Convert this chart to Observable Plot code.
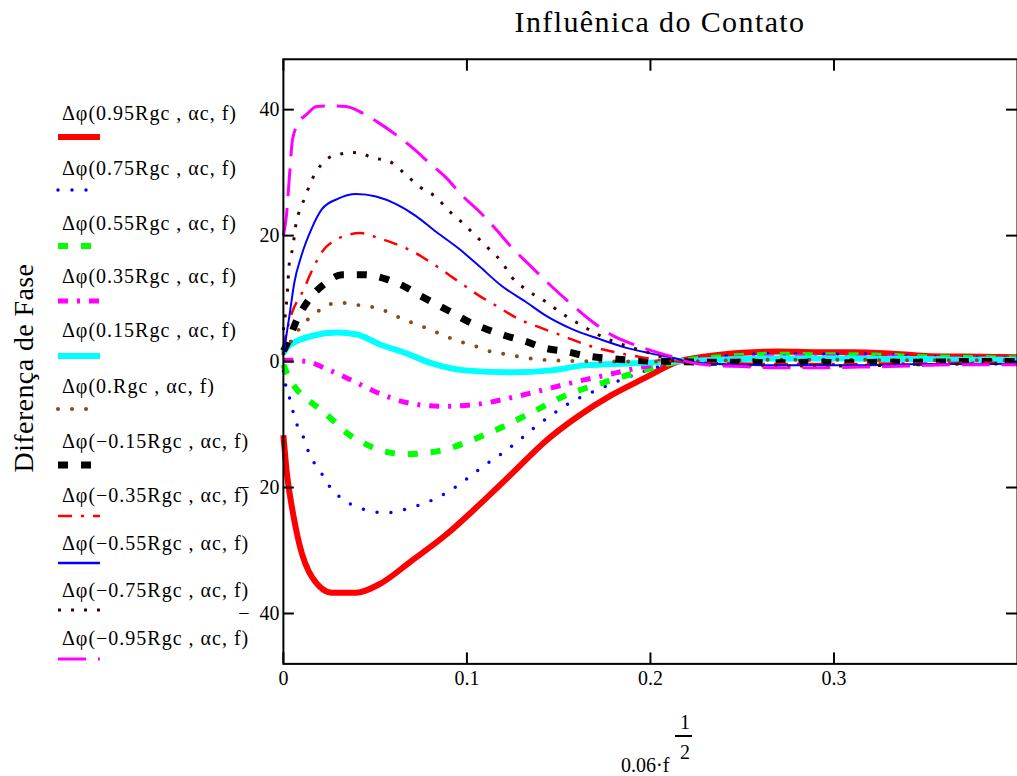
<!DOCTYPE html>
<html><head><meta charset="utf-8">
<script src="https://cdn.jsdelivr.net/npm/d3@7"></script>
<script src="https://cdn.jsdelivr.net/npm/@observablehq/plot@0.6"></script>
<style>
html,body{margin:0;padding:0;background:#fff;overflow:hidden;}
#wrap{position:relative;width:1017px;height:776px;overflow:hidden;font-family:"Liberation Serif","Times New Roman",serif;color:#000;background:#fff;}
#chart{position:absolute;left:0;top:0;}
.abs{position:absolute;white-space:nowrap;line-height:1;}
</style></head><body>
<div id="wrap">
  <div id="chart"></div>
  <div class="abs" id="title" style="left:410px;width:500px;top:7px;font-size:30px;letter-spacing:1.4px;text-align:center">Influênica do Contato</div>
  <div class="abs" id="ylabel" style="left:23.5px;top:368px;font-size:28px;letter-spacing:0.4px;transform:translate(-50%,-50%) rotate(-90deg)">Diferença de Fase</div>
  <div id="legend"></div>
  <div class="abs" style="left:621px;top:755px;font-size:20px">0.06·f</div>
  <div class="abs" style="left:680px;top:712px;font-size:20px">1</div>
  <div class="abs" style="left:675px;top:735px;width:17px;height:1.5px;background:#000"></div>
  <div class="abs" style="left:680px;top:742px;font-size:20px">2</div>
</div>
<script>
// ---- data ----
const labels = [
  "Δφ(0.95Rgc , αc, f)", "Δφ(0.75Rgc , αc, f)", "Δφ(0.55Rgc , αc, f)", "Δφ(0.35Rgc , αc, f)",
  "Δφ(0.15Rgc , αc, f)", "Δφ(0.Rgc , αc, f)", "Δφ(−0.15Rgc , αc, f)", "Δφ(−0.35Rgc , αc, f)",
  "Δφ(−0.55Rgc , αc, f)", "Δφ(−0.75Rgc , αc, f)", "Δφ(−0.95Rgc , αc, f)"
];
const xTicks = [0, 0.1, 0.2, 0.3];
const xTickLabels = ["0", "0.1", "0.2", "0.3"];
const yTicks = [-40, -20, 0, 20, 40];
const yTickLabels = ["−\u200240", "−\u200220", "0", "20", "40"];

const s095 = [[0,-11.7],[0.002,-18],[0.005,-23.7],[0.0087,-29],[0.0158,-34.3],[0.0266,-36.7],[0.0397,-36.7],[0.052,-35.4],[0.070,-31.6],[0.0886,-27.5],[0.1065,-22.8],[0.1245,-17.8],[0.143,-12.6],[0.161,-8.6],[0.179,-5.3],[0.197,-2.6],[0.215,0],[0.23,0.8],[0.25,1.4],[0.27,1.6],[0.29,1.5],[0.31,1.5],[0.33,1.3],[0.35,0.9],[0.37,0.8],[0.40,0.7]];
const s075 = [[0,-1.5],[0.0016,-4.3],[0.0043,-6.6],[0.006,-9],[0.0098,-11.1],[0.013,-13.8],[0.0168,-16.1],[0.0207,-17.7],[0.0239,-19.3],[0.0315,-21.7],[0.0413,-23.2],[0.056,-24],[0.0696,-23.2],[0.081,-22],[0.0913,-20.4],[0.1,-18.6],[0.109,-16.6],[0.119,-14.6],[0.128,-12.6],[0.1375,-10.3],[0.148,-8.1],[0.157,-6.4],[0.167,-5.0],[0.175,-4.0],[0.193,-1.9],[0.215,0],[0.23,0.6],[0.25,1.1],[0.27,1.3],[0.29,1.2],[0.31,1.2],[0.33,1.1],[0.35,0.8],[0.37,0.7],[0.40,0.6]];
const s055 = [[0,-0.5],[0.003,-2.5],[0.0075,-4.5],[0.0123,-5.8],[0.0205,-7.7],[0.0277,-9.5],[0.0348,-11.4],[0.044,-13],[0.054,-14.2],[0.066,-14.7],[0.0777,-14.5],[0.089,-13.9],[0.1,-12.8],[0.11,-11.6],[0.12,-10.3],[0.129,-9],[0.138,-7.7],[0.147,-6.3],[0.157,-5],[0.167,-4],[0.177,-3.1],[0.195,-1.5],[0.215,0],[0.23,0.5],[0.25,0.9],[0.27,1.1],[0.29,1.0],[0.31,1.0],[0.33,0.9],[0.35,0.7],[0.37,0.6],[0.40,0.5]];
const s035 = [[0,0.2],[0.004,0.2],[0.013,0],[0.023,-1.1],[0.036,-2.8],[0.051,-4.9],[0.067,-6.5],[0.086,-7.1],[0.105,-6.8],[0.123,-5.8],[0.139,-4.7],[0.155,-3.5],[0.175,-2.2],[0.195,-0.9],[0.215,0],[0.23,0.3],[0.25,0.6],[0.27,0.8],[0.29,0.8],[0.31,0.7],[0.33,0.7],[0.35,0.5],[0.37,0.4],[0.40,0.4]];
const s015 = [[0,1.3],[0.002,2.2],[0.007,3.2],[0.016,4.1],[0.029,4.6],[0.040,4.3],[0.052,2.8],[0.067,1.3],[0.081,-0.3],[0.099,-1.4],[0.124,-1.7],[0.146,-1.4],[0.164,-0.6],[0.188,-0.3],[0.215,0],[0.23,0.2],[0.25,0.4],[0.27,0.5],[0.29,0.5],[0.31,0.5],[0.33,0.4],[0.35,0.4],[0.37,0.3],[0.40,0.3]];
const s000 = [[0,1.3],[0.005,3.6],[0.010,5.7],[0.016,7.3],[0.027,9.2],[0.035,9.3],[0.042,8.9],[0.048,8.7],[0.055,8.1],[0.066,6.6],[0.072,6.0],[0.083,4.7],[0.095,3.3],[0.102,2.7],[0.108,2.1],[0.114,1.5],[0.121,1.2],[0.128,0.8],[0.141,0.3],[0.157,0.1],[0.185,0],[0.215,0],[0.23,0.1],[0.25,0.2],[0.27,0.3],[0.29,0.3],[0.31,0.3],[0.33,0.2],[0.35,0.2],[0.37,0.2],[0.40,0.2]];
const sm015 = [[0,1.7],[0.002,2.8],[0.0076,6.8],[0.0152,10.3],[0.0223,12.3],[0.032,13.8],[0.044,13.8],[0.056,13.1],[0.066,11.9],[0.075,10.4],[0.084,9],[0.093,7.6],[0.101,6.3],[0.111,5.1],[0.121,4.1],[0.132,3.2],[0.143,2.1],[0.154,1.6],[0.165,0.9],[0.178,0.5],[0.19,0.2],[0.215,0],[0.23,-0.1],[0.25,-0.1],[0.27,-0.2],[0.29,-0.1],[0.31,-0.2],[0.33,-0.1],[0.35,-0.1],[0.37,0],[0.40,0]];
const sm035 = [[0,2],[0.002,5],[0.005,8],[0.010,10.8],[0.016,14.7],[0.021,17.4],[0.029,19.4],[0.042,20.4],[0.052,19.6],[0.061,18.7],[0.071,17.4],[0.080,15.8],[0.096,12.6],[0.107,10.4],[0.114,9.2],[0.130,6.5],[0.139,5.5],[0.152,4.1],[0.168,2.4],[0.179,1.6],[0.193,0.8],[0.206,0.2],[0.215,0],[0.23,-0.2],[0.25,-0.3],[0.27,-0.4],[0.29,-0.4],[0.31,-0.4],[0.33,-0.3],[0.35,-0.3],[0.37,-0.2],[0.40,-0.2]];
const sm055 = [[0,1],[0.0016,4.1],[0.0033,7.3],[0.006,12.6],[0.0098,16.8],[0.0152,21],[0.021,24.2],[0.0293,25.8],[0.0397,26.6],[0.0505,26.2],[0.0614,25],[0.0723,23.1],[0.0832,20.6],[0.0957,17.9],[0.1065,15.2],[0.119,12],[0.132,9.5],[0.143,7.3],[0.157,5.2],[0.172,3.6],[0.188,2.1],[0.2,1.3],[0.215,0.4],[0.22,0],[0.23,-0.3],[0.25,-0.5],[0.27,-0.6],[0.29,-0.6],[0.31,-0.6],[0.33,-0.5],[0.35,-0.4],[0.37,-0.4],[0.40,-0.3]];
const sm075 = [[0,5],[0.002,10.4],[0.0033,15.8],[0.005,17.9],[0.007,22.1],[0.0087,23.9],[0.0114,25.8],[0.014,27.8],[0.0168,29.6],[0.0207,31.3],[0.025,32.4],[0.0304,32.9],[0.037,33.2],[0.043,33],[0.048,32.4],[0.0576,31.8],[0.067,29.6],[0.074,27.8],[0.0832,26.1],[0.0903,23.9],[0.0973,22.1],[0.105,19.9],[0.112,17.9],[0.119,15.8],[0.1245,13.4],[0.132,11.5],[0.143,9.5],[0.152,7.6],[0.161,6],[0.170,4.5],[0.179,3.3],[0.188,2.4],[0.197,1.6],[0.215,0],[0.23,-0.4],[0.25,-0.6],[0.27,-0.7],[0.29,-0.7],[0.31,-0.7],[0.33,-0.6],[0.35,-0.5],[0.37,-0.4],[0.40,-0.4]];
const sm095 = [[0,20],[0.0016,23],[0.0033,29.4],[0.005,35.3],[0.0087,38.1],[0.0125,39.2],[0.018,40.5],[0.0239,40.6],[0.0342,40.5],[0.0429,39.5],[0.052,37.9],[0.0614,36],[0.0701,34],[0.0793,31.6],[0.0886,29.2],[0.0973,26.4],[0.1065,23.9],[0.1158,21.0],[0.1245,18.1],[0.1353,15.0],[0.143,12.8],[0.1554,9.5],[0.168,6.4],[0.179,4.2],[0.193,2.5],[0.2054,1.3],[0.215,0.5],[0.22,0],[0.23,-0.5],[0.25,-0.8],[0.27,-1.0],[0.29,-1.0],[0.31,-0.9],[0.33,-0.8],[0.35,-0.6],[0.37,-0.5],[0.40,-0.5]];
const seriesData = [s095, s075, s055, s035, s015, s000, sm015, sm035, sm055, sm075, sm095];

// ---- styles ----
const colors = ["#ff0000","#0000ff","#00ff00","#ff00ff","#00ffff","#8b4a14","#000000","#ff0000","#0000ff","#400000","#ff00ff"];
const widths = [6, 3.5, 6, 5, 6, 4, 7, 2.5, 2, 3, 3];
const dashes = [null, "0 14", "10 13", "10 9 3 9", null, "0 14", "10 13", "14 9 3 9", null, "3 10", "28 12"];
const caps = ["butt","round","butt","butt","butt","round","butt","butt","butt","butt","butt"];

// ---- layout ----
const W = 1021, H = 776, mL = 284, mT = 59, mB = 110, mR = 0;
const plotW = W - mL - mR, plotH = H - mT - mB;
const legendBaselines = [119.5, 174.5, 229.5, 282.5, 336.5, 392.5, 447.5, 501.5, 549.5, 596.5, 644.5];
const legendLineY = [137, 190, 246, 301, 356, 409, 465, 516, 563, 610, 659];

const marks = [];
seriesData.forEach((pts, i) => {
  marks.push(Plot.line(pts, {
    x: d => d[0], y: d => d[1], stroke: colors[i], strokeWidth: widths[i],
    strokeDasharray: dashes[i] || undefined, strokeLinecap: caps[i], curve: "monotone-x"
  }));
});
marks.push(Plot.frame({stroke: "black", strokeWidth: 2}));
marks.push(Plot.tickY(yTicks, {y: d => d, insetRight: plotW - 11, strokeWidth: 2}));
marks.push(Plot.tickY(yTicks, {y: d => d, insetLeft: plotW - 11, strokeWidth: 2}));
marks.push(Plot.tickX(xTicks, {x: d => d, insetTop: plotH - 11, strokeWidth: 2}));
marks.push(Plot.tickX(xTicks, {x: d => d, insetBottom: plotH - 12, strokeWidth: 2}));
marks.push(Plot.axisX({ticks: xTicks, tickSize: 0, tickPadding: 7, tickFormat: d => xTickLabels[xTicks.indexOf(d)], label: null}));
marks.push(Plot.axisY({ticks: yTicks, tickSize: 0, tickPadding: 4, tickFormat: d => yTickLabels[yTicks.indexOf(d)], label: null}));

const chart = Plot.plot({
  width: W, height: H,
  marginLeft: mL, marginTop: mT, marginBottom: mB, marginRight: mR,
  x: {domain: [0, 0.4]},
  y: {domain: [-48, 48]},
  style: {fontFamily: "'Liberation Serif','Times New Roman',serif", fontSize: "20px", color: "black", background: "white", overflow: "visible"},
  marks
});
document.getElementById("chart").appendChild(chart);

// ---- legend ----
const leg = document.getElementById("legend");
labels.forEach((lab, i) => {
  const t = document.createElement("div");
  t.className = "abs";
  t.style.cssText = `left:62px;top:${legendBaselines[i] - 16.75}px;font-size:20px;letter-spacing:1px`;
  t.textContent = lab;
  leg.appendChild(t);
  const ns = "http://www.w3.org/2000/svg";
  const svg = document.createElementNS(ns, "svg");
  svg.setAttribute("width", 60); svg.setAttribute("height", 12);
  svg.style.cssText = `position:absolute;left:50px;top:${legendLineY[i] - 6}px;overflow:visible`;
  const ln = document.createElementNS(ns, "line");
  ln.setAttribute("x1", 8); ln.setAttribute("x2", 50); ln.setAttribute("y1", 6); ln.setAttribute("y2", 6);
  ln.setAttribute("stroke", colors[i]); ln.setAttribute("stroke-width", Math.max(widths[i], 2.5));
  if (dashes[i]) ln.setAttribute("stroke-dasharray", dashes[i]);
  ln.setAttribute("stroke-linecap", caps[i]);
  svg.appendChild(ln);
  leg.appendChild(svg);
});
</script>
</body></html>
